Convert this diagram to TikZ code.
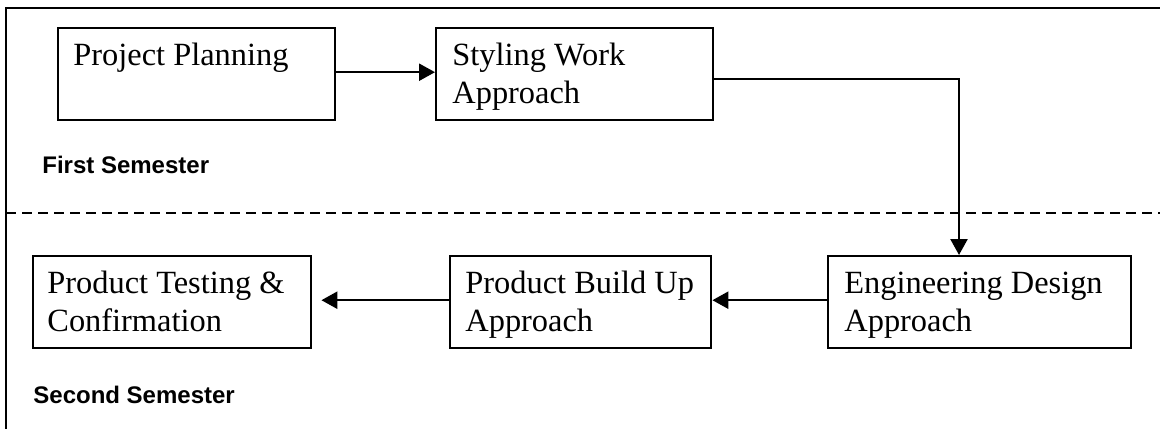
\documentclass[tikz,border=0pt]{standalone}
\usepackage{fontspec}
\setmainfont{Liberation Serif}
\setsansfont{Liberation Sans}
\usetikzlibrary{arrows.meta}

\tikzset{
  stagebox/.style={draw, line width=1.2pt, rectangle, inner sep=0pt, anchor=north west},
  stagetext/.style={anchor=base west, align=left, inner sep=0pt,
    font=\fontsize{16.2}{19}\selectfont},
  semlabel/.style={anchor=base west, inner sep=0pt,
    font=\sffamily\bfseries\fontsize{12}{14}\selectfont},
  flow/.style={line width=1.2pt, -{Triangle[length=8pt,width=8.5pt]}},
  divider/.style={line width=1.1pt, dash pattern=on 5pt off 3pt},
  frameline/.style={line width=1.4pt}
}

\begin{document}
\begin{tikzpicture}[x=0.5pt, y=-0.5pt]
  \useasboundingbox (0,0) rectangle (1160,428);

  % outer frame (top and left edges visible)
  \coordinate (fr-tl) at (6,8);
  \coordinate (fr-tr) at (1162,8);
  \coordinate (fr-bl) at (6,430);
  \draw[frameline] (fr-tr) -- (fr-tl) -- (fr-bl);

  % semester divider
  \coordinate (dv-l) at (6,213);
  \coordinate (dv-r) at (1162,213);
  \draw[divider] (dv-l) -- (dv-r);

  % first semester stages (two-line texts are placed by their last baseline)
  \node[stagebox, minimum width=277pt*0.5, minimum height=92pt*0.5] (pp) at (57,27) {};
  \node[stagetext] (pp-t) at (73,65) {Project Planning};

  \node[stagebox, minimum width=277pt*0.5, minimum height=92pt*0.5] (sw) at (435,27) {};
  \node[stagetext] (sw-t) at (452,103) {Styling Work\\Approach};

  % second semester stages
  \node[stagebox, minimum width=303pt*0.5, minimum height=92pt*0.5] (ed) at (827,255) {};
  \node[stagetext] (ed-t) at (844,331) {Engineering Design\\Approach};

  \node[stagebox, minimum width=261pt*0.5, minimum height=92pt*0.5] (bu) at (449,255) {};
  \node[stagetext] (bu-t) at (465,331) {Product Build Up\\Approach};

  \node[stagebox, minimum width=278pt*0.5, minimum height=92pt*0.5] (pt) at (32,255) {};
  \node[stagetext] (pt-t) at (47,331) {Product Testing \&\\Confirmation};

  % semester labels
  \node[semlabel] (sem1) at (42,173) {First Semester};
  \node[semlabel] (sem2) at (33,403) {Second Semester};

  % connectors
  \coordinate (turn) at (959,79);
  \draw[flow] ([yshift=1pt]pp.east) -- ([yshift=1pt]pp.east -| sw.west);
  \draw[flow] (sw.east |- turn) -- (turn) -- (turn |- ed.north);
  \draw[flow] ([yshift=1pt]ed.west) -- ([yshift=1pt]ed.west -| bu.east);
  \draw[flow, shorten >=4.5pt] ([yshift=1pt]bu.west) -- ([yshift=1pt]bu.west -| pt.east);
\end{tikzpicture}
\end{document}
